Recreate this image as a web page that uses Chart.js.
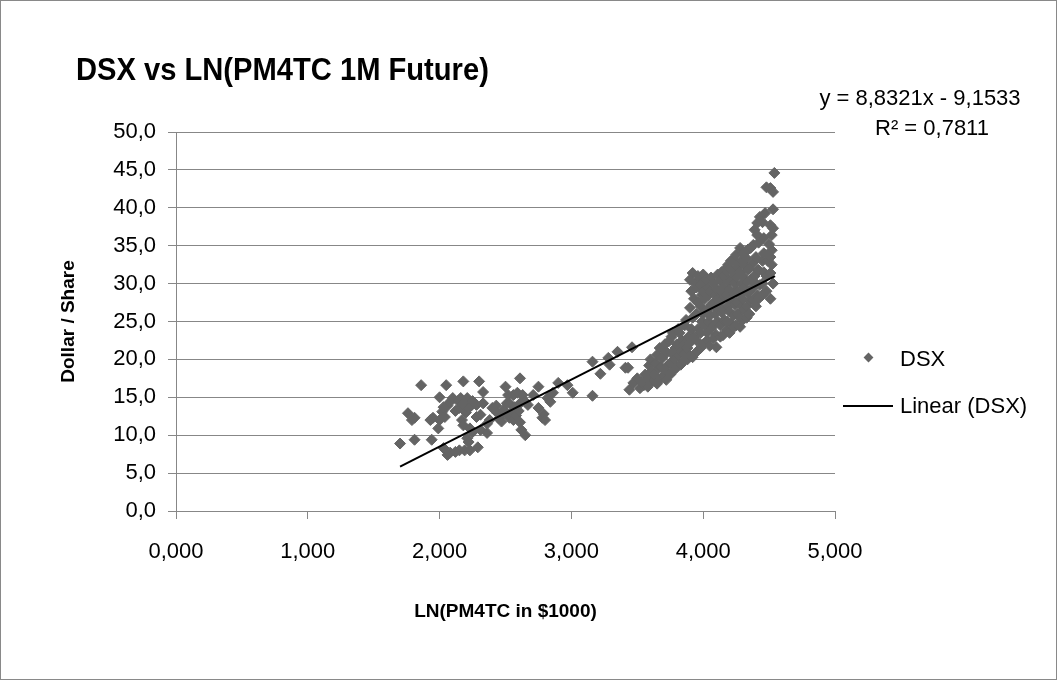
<!DOCTYPE html>
<html>
<head>
<meta charset="utf-8">
<script src="https://cdn.jsdelivr.net/npm/chart.js@4"></script>
<style>
  body { margin: 0; background: #fff; }
  #wrap { position: relative; width: 1057px; height: 680px; font-family: "Liberation Sans", Arial, sans-serif; color: #000; }
  #frame { position: absolute; left: 0; top: 0; width: 1055px; height: 678px; border: 1px solid #898989; pointer-events: none; }
  .txt { position: absolute; white-space: nowrap; line-height: 1; }
  #title { left: 76px; top: 54px; font-size: 31px; font-weight: bold; transform: scaleX(0.94); transform-origin: left center; }
  .eq { width: 220px; text-align: center; font-size: 22px; }
  .leg { left: 900px; font-size: 22px; }
  #legDot { position: absolute; left: 865px; top: 354px; width: 7px; height: 7px; background: #646464; transform: rotate(45deg); }
  #legLine { position: absolute; left: 843px; top: 405px; width: 50px; height: 2px; background: #000; }
</style>
</head>
<body>
<div id="wrap">
  <canvas id="myChart" width="1057" height="680"></canvas>
  <div class="txt" id="title">DSX vs LN(PM4TC 1M Future)</div>
  <div class="txt eq" id="eq1" style="top:87px; left:810px"></div>
  <div class="txt eq" id="eq2" style="top:117px; left:822px"></div>
  <div id="legDot"></div>
  <div class="txt leg" style="top:348px">DSX</div>
  <div id="legLine"></div>
  <div class="txt leg" style="top:395px">Linear (DSX)</div>
  <div id="frame"></div>
</div>
<script>
// DSX (dollar / share) against LN(PM4TC) as [x, y]
const leftCluster = [
  [1.70, 8.9], [1.76, 12.9], [1.79, 12.0], [1.81, 12.3], [1.81, 9.4], [1.86, 16.6],
  [1.93, 12.0], [1.95, 12.3], [1.94, 9.4], [1.99, 10.9], [2.00, 12.0], [2.00, 15.0],
  [2.02, 13.1], [2.03, 13.7], [2.04, 12.4], [2.03, 8.3], [2.05, 16.6], [2.06, 7.4],
  [2.06, 13.9], [2.08, 7.7], [2.08, 14.4], [2.10, 14.9], [2.12, 7.8], [2.12, 13.2],
  [2.14, 14.5], [2.15, 8.0], [2.15, 13.6], [2.16, 14.9], [2.17, 12.0], [2.18, 11.3],
  [2.18, 14.1], [2.18, 17.1], [2.19, 8.0], [2.20, 13.0], [2.21, 14.9], [2.21, 9.6],
  [2.22, 9.1], [2.22, 13.6], [2.23, 8.0], [2.23, 10.9], [2.24, 13.9], [2.25, 10.4],
  [2.25, 14.5], [2.28, 12.4], [2.28, 14.0], [2.29, 8.4], [2.30, 17.1], [2.31, 10.7],
  [2.31, 12.7], [2.33, 14.2], [2.33, 15.7], [2.36, 10.3], [2.36, 11.5], [2.38, 12.0],
  [2.40, 13.6], [2.43, 13.9], [2.44, 12.9], [2.45, 12.2], [2.47, 11.8], [2.48, 12.9],
  [2.48, 13.3], [2.50, 16.4], [2.51, 14.2], [2.51, 12.9], [2.52, 15.3], [2.53, 12.3],
  [2.53, 14.2], [2.55, 13.0], [2.56, 12.0], [2.56, 15.3], [2.57, 13.7], [2.58, 12.6],
  [2.59, 15.6], [2.60, 13.2], [2.61, 17.5], [2.61, 14.2], [2.61, 11.7], [2.62, 10.7],
  [2.63, 15.3], [2.65, 10.0], [2.65, 14.4], [2.67, 14.0], [2.71, 15.3], [2.75, 16.4],
  [2.75, 13.6], [2.78, 12.3], [2.79, 12.8], [2.80, 12.0], [2.82, 14.9], [2.84, 14.4],
  [2.86, 15.6], [2.90, 16.9], [2.97, 16.6], [3.01, 15.6], [3.16, 19.7], [3.16, 15.2],
  [3.22, 18.1], [3.28, 20.2], [3.29, 19.3], [3.35, 21.0], [3.41, 18.9], [3.43, 18.9],
  [3.46, 21.6], [3.44, 16.0], [3.47, 16.9], [3.50, 17.5]
];
const midBand = [
  [3.52, 16.2], [3.53, 17.0], [3.55, 16.6], [3.56, 18.0], [3.58, 16.4], [3.58, 17.5],
  [3.59, 19.2], [3.60, 17.0], [3.61, 18.5], [3.60, 20.0], [3.63, 17.2], [3.63, 18.0],
  [3.64, 19.5], [3.65, 16.8], [3.66, 18.8], [3.65, 20.6], [3.68, 17.5], [3.68, 19.0],
  [3.69, 20.2], [3.67, 21.5], [3.70, 17.8], [3.71, 18.5], [3.70, 20.5], [3.71, 22.0],
  [3.72, 17.3], [3.73, 19.2], [3.72, 21.0], [3.75, 18.0], [3.75, 19.5], [3.76, 20.8],
  [3.74, 22.4], [3.76, 23.0], [3.78, 18.6], [3.78, 20.0], [3.79, 21.5], [3.77, 23.5],
  [3.80, 19.0], [3.81, 20.5], [3.80, 22.0], [3.81, 24.0], [3.83, 19.3], [3.83, 21.0],
  [3.84, 22.5], [3.82, 23.5], [3.85, 19.8], [3.86, 20.8], [3.85, 22.0], [3.86, 24.5],
  [3.88, 20.0], [3.88, 21.5], [3.89, 23.0], [3.87, 25.2]
];
const rightCore = [
  [3.90, 20.5], [3.90, 22.2], [3.91, 24.0], [3.90, 26.8], [3.91, 29.0], [3.90, 30.5],
  [3.92, 20.3], [3.93, 23.0], [3.92, 25.5], [3.93, 28.0], [3.92, 31.4], [3.94, 30.0],
  [3.95, 21.0], [3.95, 22.5], [3.96, 24.0], [3.95, 26.0], [3.96, 27.5], [3.95, 29.5],
  [3.97, 30.5], [3.96, 31.0], [3.98, 21.5], [3.98, 23.5], [3.99, 25.0], [3.98, 27.0],
  [3.99, 28.5], [3.98, 29.8], [4.00, 22.0], [4.01, 24.5], [4.00, 26.0], [4.01, 28.0],
  [4.00, 29.0], [4.01, 30.2], [4.00, 31.2], [4.03, 22.5], [4.03, 23.5], [4.04, 25.0],
  [4.03, 26.5], [4.04, 28.5], [4.03, 29.5], [4.02, 30.5], [4.05, 21.8], [4.06, 24.0],
  [4.05, 25.8], [4.06, 27.2], [4.05, 29.0], [4.06, 30.8], [4.08, 22.8], [4.08, 24.5],
  [4.09, 26.0], [4.08, 27.5], [4.09, 28.5], [4.08, 30.0], [4.10, 21.6], [4.10, 23.2],
  [4.11, 25.0], [4.10, 26.8], [4.11, 28.0], [4.10, 29.2], [4.11, 31.2], [4.13, 23.0],
  [4.13, 24.5], [4.14, 26.2], [4.13, 27.5], [4.14, 29.0], [4.13, 30.5], [4.14, 31.5],
  [4.15, 23.2], [4.16, 25.2], [4.15, 26.5], [4.16, 28.2], [4.15, 29.6], [4.16, 31.0],
  [4.17, 32.0], [4.18, 23.8], [4.18, 25.0], [4.19, 27.0], [4.18, 28.5], [4.19, 30.2],
  [4.18, 31.5], [4.19, 32.5], [4.20, 23.5], [4.21, 24.8], [4.20, 26.3], [4.21, 27.8],
  [4.20, 29.2], [4.21, 30.5], [4.20, 32.0], [4.21, 33.0], [4.23, 24.2], [4.23, 25.8],
  [4.24, 27.2], [4.23, 28.8], [4.24, 30.0], [4.23, 31.5], [4.23, 33.1], [4.25, 24.5],
  [4.26, 26.0], [4.25, 27.5], [4.26, 29.0], [4.25, 30.8], [4.26, 32.2], [4.25, 33.8],
  [4.28, 24.3], [4.28, 25.5], [4.29, 27.0], [4.28, 28.5], [4.29, 30.0], [4.28, 31.5],
  [4.29, 33.0], [4.28, 34.7], [4.30, 25.2], [4.31, 26.5], [4.30, 28.0], [4.31, 29.5],
  [4.30, 31.0], [4.31, 32.5], [4.30, 34.0], [4.33, 25.5], [4.33, 27.0], [4.34, 28.8],
  [4.33, 30.2], [4.34, 31.8], [4.33, 33.3], [4.34, 34.5], [4.35, 26.0], [4.36, 27.8],
  [4.35, 29.0], [4.36, 30.5], [4.35, 32.0], [4.36, 34.7], [4.38, 27.8], [4.38, 29.5],
  [4.39, 31.0], [4.38, 32.8], [4.38, 35.1], [4.40, 27.0], [4.41, 28.5], [4.40, 30.0],
  [4.41, 31.8], [4.40, 33.5], [4.42, 28.0], [4.43, 29.8], [4.42, 31.8], [4.42, 35.4],
  [4.45, 28.5], [4.45, 30.0], [4.46, 31.5], [4.45, 33.0], [4.46, 34.0], [4.48, 29.0],
  [4.48, 31.0], [4.49, 33.0], [4.51, 28.0], [4.51, 31.4], [4.52, 32.5], [4.51, 33.5],
  [4.52, 34.4], [4.53, 30.0]
];
const upperTail = [
  [4.39, 37.1], [4.41, 36.4], [4.41, 38.0], [4.43, 38.8], [4.45, 38.1], [4.47, 39.3],
  [4.53, 39.8], [4.51, 37.7], [4.53, 37.3], [4.52, 36.4], [4.48, 42.7], [4.51, 42.6],
  [4.53, 42.1], [4.54, 44.6], [4.50, 35.2], [4.46, 36.0]
];

// linear trendline ends (y = 8,8321x - 9,1533)
const trendX = [1.70, 4.545];
const trendY = [5.86, 31.0];
const eqLines = ['y = 8,8321x - 9,1533', 'R\u00b2 = 0,7811'];

const xTickLabels = ['0,000', '1,000', '2,000', '3,000', '4,000', '5,000'];
const yTickLabels = ['0,0', '5,0', '10,0', '15,0', '20,0', '25,0', '30,0', '35,0', '40,0', '45,0', '50,0'];

document.getElementById('eq1').textContent = eqLines[0];
document.getElementById('eq2').textContent = eqLines[1];

const dsxPoints = [...leftCluster, ...midBand, ...rightCore, ...upperTail].map(p => ({ x: p[0], y: p[1] }));
const trendPoints = trendX.map((x, i) => ({ x: x, y: trendY[i] }));

const gridGray = '#878787';
Chart.defaults.font.family = '"Liberation Sans", Arial, sans-serif';
Chart.defaults.color = '#000';

const ctx = document.getElementById('myChart').getContext('2d');
new Chart(ctx, {
  type: 'scatter',
  data: {
    datasets: [{
      label: 'Linear (DSX)',
      data: trendPoints,
      showLine: true,
      borderColor: '#000',
      borderWidth: 2,
      pointRadius: 0
    }, {
      label: 'DSX',
      data: dsxPoints,
      pointStyle: 'rectRot',
      pointRadius: 5.5,
      pointBorderWidth: 1,
      backgroundColor: '#646464',
      borderColor: '#646464'
    }]
  },
  options: {
    responsive: false,
    animation: false,
    layout: { padding: { top: 132, right: 222, bottom: 0, left: 0 } },
    plugins: {
      legend: { display: false },
      title: { display: false },
      tooltip: { enabled: false }
    },
    scales: {
      x: {
        type: 'linear',
        min: 0,
        max: 5,
        afterFit: s => { s.height = 169; },
        ticks: {
          stepSize: 1,
          padding: 20,
          font: { size: 22 },
          callback: (v, i) => xTickLabels[i]
        },
        grid: { drawOnChartArea: false, color: gridGray, tickLength: 8 },
        border: { color: gridGray },
        title: {
          display: true,
          text: 'LN(PM4TC in $1000)',
          font: { size: 19, weight: 'bold' },
          padding: { top: 0, bottom: 57 }
        }
      },
      y: {
        min: 0,
        max: 50,
        afterFit: s => { s.width = 176; },
        ticks: {
          stepSize: 5,
          padding: 12,
          font: { size: 22 },
          callback: (v, i) => yTickLabels[i]
        },
        grid: { color: gridGray, tickLength: 8 },
        border: { color: gridGray },
        title: {
          display: true,
          text: 'Dollar / Share',
          font: { size: 19, weight: 'bold' },
          padding: { top: 57, bottom: 0 }
        }
      }
    }
  }
});
</script>
</body>
</html>
